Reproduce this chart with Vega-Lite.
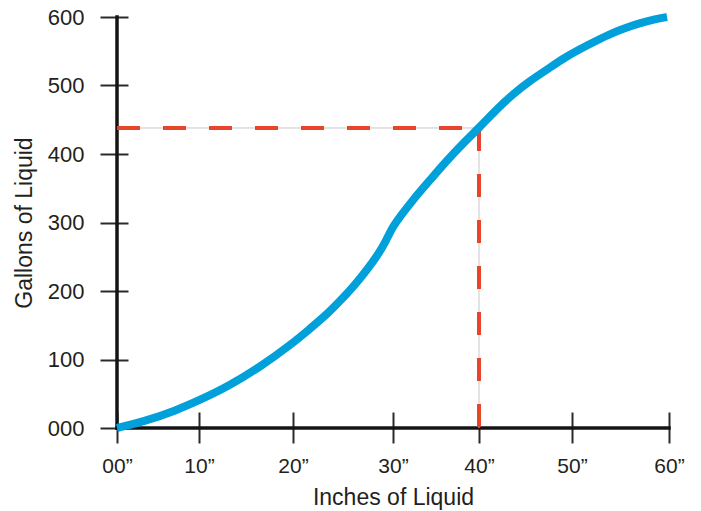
{
  "$schema": "https://vega.github.io/schema/vega-lite/v6.json",
  "width": 552,
  "height": 411,
  "autosize": {"type": "none"},
  "padding": {"left": 117, "top": 17, "right": 32, "bottom": 83},
  "background": "white",
  "config": {"view": {"stroke": null}, "font": "Liberation Sans"},
  "datasets": {
    "curve": [
      {"x": 0, "y": 0},
      {"x": 3.2, "y": 9},
      {"x": 7.3, "y": 26},
      {"x": 10.1, "y": 41},
      {"x": 13.0, "y": 60},
      {"x": 16.5, "y": 89},
      {"x": 20.0, "y": 124},
      {"x": 21.7, "y": 145},
      {"x": 23.4, "y": 166},
      {"x": 24.8, "y": 187},
      {"x": 26.2, "y": 209},
      {"x": 27.4, "y": 231},
      {"x": 28.5, "y": 253},
      {"x": 29.3, "y": 273},
      {"x": 29.9, "y": 292},
      {"x": 30.8, "y": 308},
      {"x": 32.3, "y": 333},
      {"x": 34.3, "y": 362},
      {"x": 36.3, "y": 391},
      {"x": 38.1, "y": 415},
      {"x": 40.0, "y": 438},
      {"x": 41.8, "y": 464},
      {"x": 43.7, "y": 488},
      {"x": 45.5, "y": 507},
      {"x": 47.3, "y": 523},
      {"x": 49.0, "y": 539},
      {"x": 50.8, "y": 553},
      {"x": 52.6, "y": 566},
      {"x": 54.2, "y": 577},
      {"x": 55.7, "y": 585},
      {"x": 57.0, "y": 591},
      {"x": 58.6, "y": 597},
      {"x": 59.8, "y": 600}
    ],
    "guide": [
      {"x": 0, "y": 438, "x2": 40, "y2": 438},
      {"x": 40, "y": 438, "x2": 40, "y2": 0}
    ],
    "frame": [
      {"x": 0, "y": 0, "x2": 0, "y2": 600},
      {"x": 0, "y": 0, "x2": 60, "y2": 0}
    ]
  },
  "encoding": {
    "x": {
      "field": "x",
      "type": "quantitative",
      "scale": {"domain": [0, 10, 20, 30, 40, 50, 60], "range": [0, 82, 176, 276, 362, 455, 552], "nice": false, "zero": false},
      "axis": {
        "values": [0, 10, 20, 30, 40, 50, 60],
        "offset": -16,
        "tickSize": 31,
        "tickWidth": 2,
        "tickColor": "#2a2a2a",
        "domain": false,
        "grid": false,
        "labelExpr": "(datum.value == 0 ? '00' : datum.label) + '”'",
        "labelFont": "Liberation Sans",
        "labelFontSize": 21,
        "labelColor": "#231F20",
        "labelPadding": 12,
        "labelFlush": false,
        "labelOverlap": false,
        "title": "Inches of Liquid",
        "titleFont": "Liberation Sans",
        "titleFontSize": 23,
        "titleFontWeight": "normal",
        "titleColor": "#231F20",
        "titlePadding": 10
      }
    },
    "y": {
      "field": "y",
      "type": "quantitative",
      "scale": {"domain": [0, 600], "nice": false, "zero": false},
      "axis": {
        "values": [0, 100, 200, 300, 400, 500, 600],
        "offset": -11,
        "tickSize": 28,
        "tickWidth": 2,
        "tickColor": "#2a2a2a",
        "domain": false,
        "grid": false,
        "labelExpr": "datum.value == 0 ? '000' : datum.label",
        "labelFont": "Liberation Sans",
        "labelFontSize": 22,
        "labelColor": "#231F20",
        "labelPadding": 16,
        "labelOverlap": false,
        "labelFlush": false,
        "title": "Gallons of Liquid",
        "titleFont": "Liberation Sans",
        "titleFontSize": 23,
        "titleFontWeight": "normal",
        "titleColor": "#231F20",
        "titlePadding": 11
      }
    }
  },
  "layer": [
    {
      "data": {"name": "frame"},
      "mark": {"type": "rule", "color": "#141414", "strokeWidth": 3.5, "strokeCap": "square"},
      "encoding": {"x2": {"field": "x2"}, "y2": {"field": "y2"}}
    },
    {
      "data": {"name": "guide"},
      "mark": {"type": "rule", "color": "#c8c8c8", "strokeWidth": 1},
      "encoding": {"x2": {"field": "x2"}, "y2": {"field": "y2"}}
    },
    {
      "data": {"name": "guide"},
      "mark": {"type": "rule", "color": "#E8432B", "strokeWidth": 4, "strokeDash": [23, 23]},
      "encoding": {"x2": {"field": "x2"}, "y2": {"field": "y2"}}
    },
    {
      "data": {"name": "curve"},
      "mark": {"type": "line", "color": "#00A0DA", "strokeWidth": 8, "strokeCap": "butt", "interpolate": "basis"},
      "encoding": {}
    }
  ]
}
